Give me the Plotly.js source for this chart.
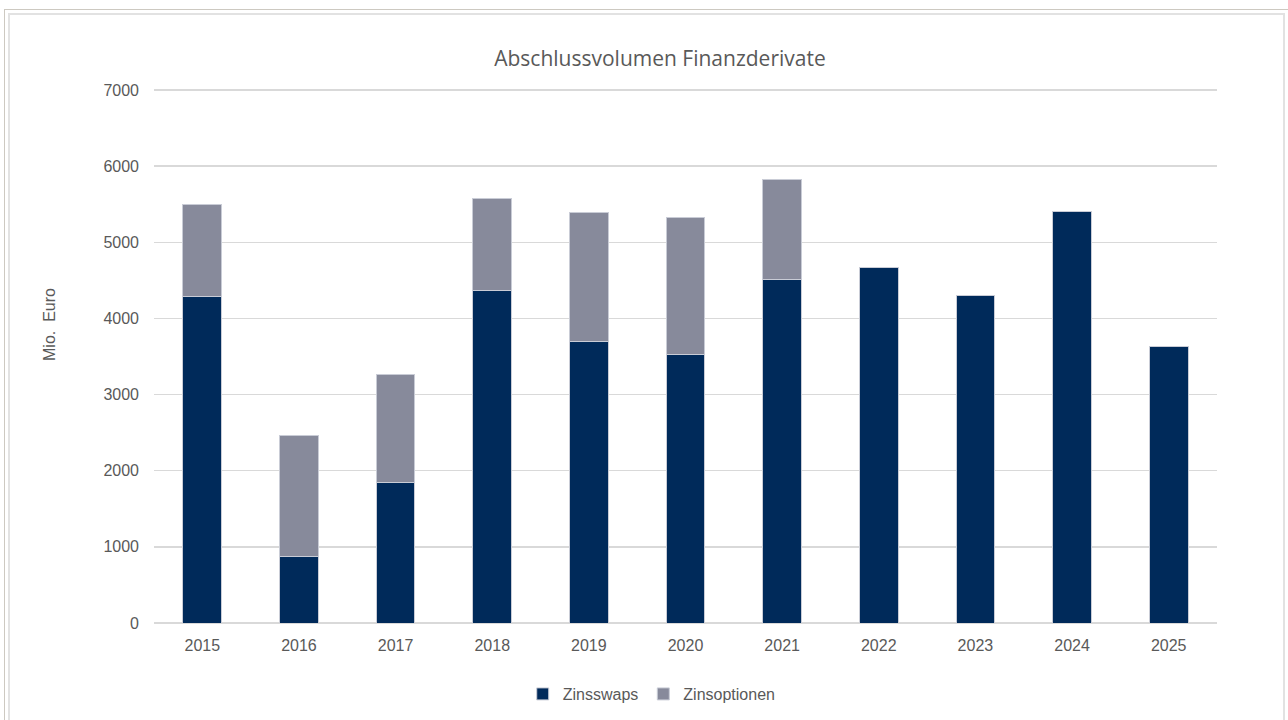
<!DOCTYPE html>
<html>
<head>
<meta charset="utf-8">
<script src="https://cdn.plot.ly/plotly-3.0.1.min.js"></script>
<style>
  html, body { margin: 0; padding: 0; background: #ffffff; overflow: hidden; }
  #frame1 { position: absolute; left: 4px; top: 9px; width: 1300px; height: 730px; border: 1.5px solid #cdc9c1; box-sizing: border-box; }
  #frame2 { position: absolute; left: 8px; top: 13px; width: 1277px; height: 730px; border: 2px solid #e2e2e2; box-sizing: border-box; }
  #chart { position: absolute; left: 0; top: 0; width: 1288px; height: 720px; }
</style>
</head>
<body>
<div id="frame1"></div>
<div id="frame2"></div>
<div id="chart"></div>
<script>
const years = ['2015','2016','2017','2018','2019','2020','2021','2022','2023','2024','2025'];
const zinsswaps = [4285, 867, 1848, 4365, 3691, 3529, 4514, 4671, 4304, 5410, 3629];
const zinsoptionen = [1214, 1593, 1418, 1208, 1698, 1799, 1304, 0, 0, 0, 0];
const yTicks = [0, 1000, 2000, 3000, 4000, 5000, 6000, 7000];

const textColor = '#595959';
const traces = [
  {
    type: 'bar', name: 'Zinsswaps', x: years, y: zinsswaps,
    marker: { color: '#002a5a', line: { color: '#c9ccd6', width: 1 } },
    hoverinfo: 'x+y+name'
  },
  {
    type: 'bar', name: 'Zinsoptionen', x: years, y: zinsoptionen,
    marker: { color: '#878a9b', line: { color: '#c9ccd6', width: 1 } },
    hoverinfo: 'x+y+name'
  }
];

const plotW = 1288 - 154 - 71;

const layout = {
  width: 1288, height: 720,
  paper_bgcolor: 'rgba(0,0,0,0)', plot_bgcolor: 'rgba(0,0,0,0)',
  barmode: 'stack', bargap: 0.6,
  margin: { l: 154, r: 71, t: 86, b: 97 },
  title: {
    text: 'Abschlussvolumen Finanzderivate',
    font: { family: 'Open Sans, sans-serif', size: 21, color: textColor },
    x: 0.5124, xref: 'container', xanchor: 'center', y: 0.918, yanchor: 'middle'
  },
  font: { family: 'Liberation Sans, Arial, sans-serif', size: 16, color: textColor },
  xaxis: {
    type: 'category', tickfont: { size: 16, color: textColor },
    showgrid: false, showline: false, zeroline: false, ticks: '', ticklabelstandoff: 11
  },
  yaxis: {
    range: [0, 7052], tickvals: yTicks, ticktext: yTicks.map(String),
    tickfont: { size: 16, color: textColor },
    showgrid: true, gridcolor: '#d9d9d9', gridwidth: 1.5,
    zeroline: true, zerolinecolor: '#d9d9d9', zerolinewidth: 1.5,
    showline: false, ticks: '', ticklabelstandoff: 14,
    automargin: false
  },
  annotations: [{
    text: 'Mio.  Euro', textangle: -90, showarrow: false,
    xref: 'paper', yref: 'paper', x: (50 - 154) / plotW, y: 0.555,
    xanchor: 'center', yanchor: 'middle',
    font: { size: 16, color: textColor }
  }],
  legend: {
    orientation: 'h', x: 0.506, xref: 'container', xanchor: 'center',
    y: (720 - 694) / 720, yref: 'container', yanchor: 'middle',
    font: { size: 16, color: textColor }, itemwidth: 30, traceorder: 'normal'
  },
  showlegend: true
};

Plotly.newPlot('chart', traces, layout, { displayModeBar: false, staticPlot: true });
</script>
</body>
</html>
